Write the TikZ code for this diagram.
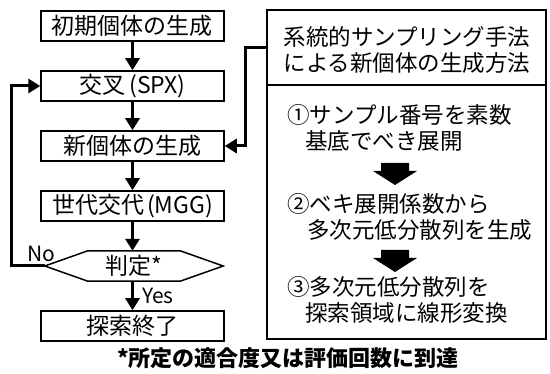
\documentclass[tikz,border=0pt]{standalone}
\usepackage{fontspec}
\setmainfont{Noto Sans CJK JP}
\usetikzlibrary{arrows.meta}
\begin{document}
\begin{tikzpicture}[x=1pt,y=-1pt,
  flowbox/.style={draw, line width=1.5pt, minimum width=183pt, minimum height=30pt, inner sep=0pt, font=\fontsize{23}{23}\selectfont},
  conn/.style={line width=3pt, -{Triangle[width=14pt,length=12pt]}},
  rtext/.style={anchor=west, inner sep=0pt, font=\fontsize{22.5}{22.5}\selectfont},
  ctext/.style={inner sep=0pt, font=\fontsize{22.5}{22.5}\selectfont},
  lbl/.style={inner sep=0pt, font=\fontsize{21}{21}\selectfont}]
\useasboundingbox (0,0) rectangle (550,374);
% left flow
\node[flowbox] (b1) at (132.5,26) {初期個体の生成};
\node[flowbox] (b2) at (132.5,86) {交叉\hspace{4pt}(SPX)};
\node[flowbox] (b3) at (132.5,146) {新個体の生成};
\node[flowbox] (b4) at (132.5,206) {世代交代\hspace{3pt}(MGG)};
\node[minimum width=178pt, minimum height=30pt, inner sep=0pt, font=\fontsize{23}{23}\selectfont] (hex) at (134,266) {判定*};
\draw[line width=1.5pt] (hex.west) -- ([xshift=43pt]hex.north west) -- ([xshift=-43pt]hex.north east) -- (hex.east) -- ([xshift=-43pt]hex.south east) -- ([xshift=43pt]hex.south west) -- cycle;
\node[flowbox] (b5) at (132.5,326) {探索終了};
\draw[conn] (b1.south) -- (b2.north);
\draw[conn] (b2.south) -- (b3.north);
\draw[conn] (b3.south) -- (b4.north);
\draw[conn] (b4.south) -- (b4.south |- hex.north);
\draw[conn] (b5.north |- hex.south) -- (b5.north) node[midway, right=8pt, lbl] {Yes};
\draw[conn, line join=miter] (hex.west) -- ++(-33pt,0) |- (b2.west);
\node[lbl, anchor=south] (no) at (41,262) {No};
% right box
\node[draw, line width=1.5pt, minimum width=279pt, minimum height=329pt, inner sep=0pt] (rbox) at (406.5,174.5) {};
\draw[line width=1.3pt] (rbox.west |- 0,85) -- (rbox.east |- 0,85);
\node[ctext] (t1) at (407,37) {系統的サンプリング手法};
\node[ctext] (t2) at (407,63) {による新個体の生成方法};
\node[rtext] (s1a) at (287,115) {①サンプル番号を素数};
\node[rtext] (s1b) at (305,141) {基底でべき展開};
\fill (381,163) -- (409,163) -- (409,171) -- (417,171) -- (395,185) -- (373,171) -- (381,171) -- cycle;
\node[rtext] (s2a) at (287,204) {②ベキ展開係数から};
\node[rtext] (s2b) at (307,230) {多次元低分散列を生成};
\fill (381,250) -- (409,250) -- (409,258) -- (417,258) -- (395,272) -- (373,258) -- (381,258) -- cycle;
\node[rtext] (s3a) at (287,287) {③多次元低分散列を};
\node[rtext] (s3b) at (305,313) {探索領域に線形変換};
\coordinate (rs) at (rbox.west |- 0,48);
\draw[conn, line join=miter] (rs) -- (245,48) |- (b3.east);
% footnote
\node[inner sep=0pt, font=\bfseries\fontsize{22}{22}\selectfont] (fn) at (288,358) {*所定の適合度又は評価回数に到達};
\end{tikzpicture}
\end{document}
